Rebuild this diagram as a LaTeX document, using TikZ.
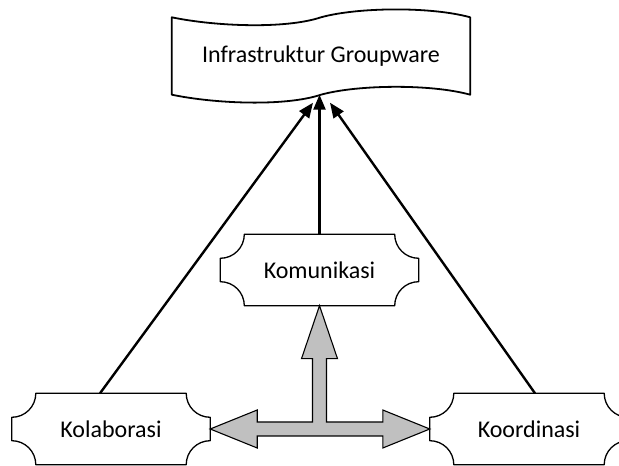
\documentclass[tikz,border=0pt]{standalone}
\usepackage{fontspec}
\setmainfont{Carlito}
\usetikzlibrary{arrows.meta,calc}
\definecolor{arrowGray}{HTML}{C0C0C0}

\begin{document}
\begin{tikzpicture}
[x=1pt,y=1pt,
  lineDecorate/.style={-{Triangle[length=15pt,width=12pt]},line width=2.4pt},
  boxLine/.style={line width=1.3pt,line join=round},
  plaqueDecorate/.style={minimum width=198pt,minimum height=71pt,inner sep=0pt,
    font=\fontsize{24}{28}\selectfont,
    append after command={\pgfextra{\draw[boxLine]
      ([xshift=24pt]\tikzlastnode.north west) arc[start angle=0,end angle=-90,radius=24pt]
      -- ([yshift=24pt]\tikzlastnode.south west) arc[start angle=90,end angle=0,radius=24pt]
      -- ([xshift=-24pt]\tikzlastnode.south east) arc[start angle=180,end angle=90,radius=24pt]
      -- ([yshift=-24pt]\tikzlastnode.north east) arc[start angle=270,end angle=180,radius=24pt]
      -- cycle;}}},
  tapeDecorate/.style={minimum width=298pt,minimum height=77pt,inner sep=0pt,
    font=\fontsize{24}{28}\selectfont,
    append after command={\pgfextra{\draw[boxLine,line width=1.8pt]
      (\tikzlastnode.south west) .. controls +(43,-9) and +(-36,-12) .. (\tikzlastnode.south)
      .. controls +(36,10) and +(-40,11) .. (\tikzlastnode.south east)
      -- (\tikzlastnode.north east) .. controls +(-40,11) and +(36,10) .. (\tikzlastnode.north)
      .. controls +(-36,-12) and +(43,-9) .. (\tikzlastnode.north west)
      -- cycle;}}},
  grayArrow/.style={fill=arrowGray,draw,line width=1.1pt,line join=miter}]
\useasboundingbox (0,0) rectangle (619,466);
%% nodes
\node (ban) at (321,410) [tapeDecorate] {Infrastruktur Groupware};
\foreach \nodename/\x/\y/\txt in {
  kol/111/37/Kolaborasi,
  kom/319.5/196/Komunikasi,
  koo/529/37/Koordinasi}
{
  \node (\nodename) at (\x,\y) [plaqueDecorate] {\txt};
}
%% black arrows
\draw[lineDecorate] ($(kol.north)+(-11,0)$) -- ($(ban.south)+(-8,-8)$);
\draw[lineDecorate] (kom.north) -- (kom.north |- ban.south);
\draw[lineDecorate] ($(koo.north)+(6,0)$) -- ($(ban.south)+(9,-8)$);
%% gray block arrow
\draw[grayArrow] (kom.south) -- ++(18,-53) -- ++(-11,0)
  |- ($(koo.west)+(-47,7)$) -- ++(0,12) -- (koo.west) -- ++(-47,-19) -- ++(0,12)
  -- ($(kol.east)+(47,-7)$) -- ++(0,-12) -- (kol.east) -- ++(47,19) -- ++(0,-12)
  -| ($(kom.south)+(-7,-53)$) -- ++(-11,0) -- cycle;
\end{tikzpicture}
\end{document}
